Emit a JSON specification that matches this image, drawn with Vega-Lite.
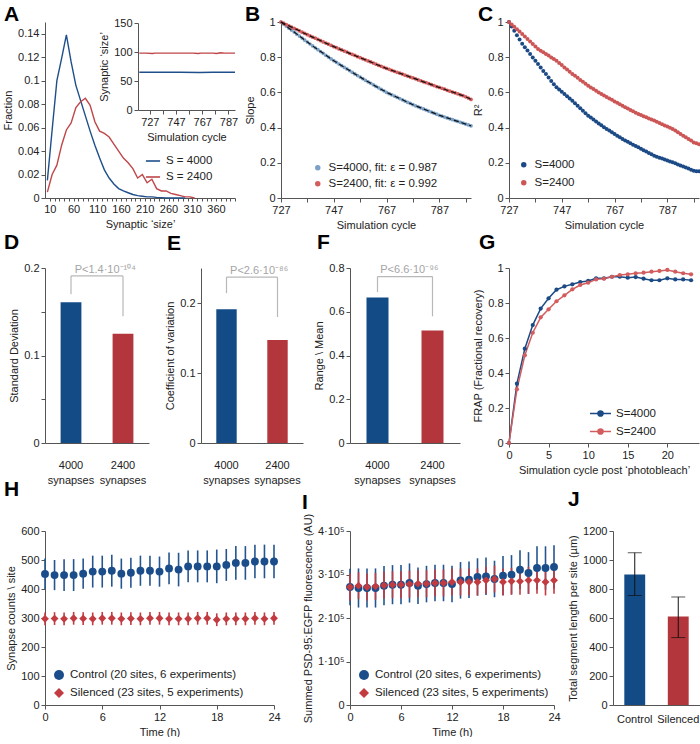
{
"$schema": "https://vega.github.io/schema/vega-lite/v6.json",
"padding": {"left": 2, "top": 4, "right": 0, "bottom": 0},
"config": {
 "font": "Liberation Sans",
 "view": {"stroke": null},
 "axis": {"labelFontSize": 11, "titleFontSize": 11, "titleFontWeight": "normal", "labelColor": "#222", "titleColor": "#222", "domainColor": "#555", "tickColor": "#555", "grid": false, "labelOverlap": false, "labelFlush": false, "tickSize": 4, "labelPadding": 2, "titlePadding": 4},
 "legend": {"padding": 0, "labelFontSize": 11.5, "labelColor": "#222", "rowPadding": 4, "labelOffset": 5, "title": null},
 "title": {"fontSize": 21, "fontWeight": "bold", "anchor": "start", "frame": "group", "color": "#000", "baseline": "alphabetic"}
},
"datasets": {
 "distA": [
  {"size":5,"fraction":0.015,"S":"S = 4000"},{"size":15,"fraction":0.058,"S":"S = 4000"},{"size":25,"fraction":0.1,"S":"S = 4000"},{"size":35,"fraction":0.119,"S":"S = 4000"},{"size":45,"fraction":0.139,"S":"S = 4000"},{"size":55,"fraction":0.116,"S":"S = 4000"},{"size":65,"fraction":0.096,"S":"S = 4000"},{"size":75,"fraction":0.083,"S":"S = 4000"},{"size":85,"fraction":0.07,"S":"S = 4000"},{"size":95,"fraction":0.057,"S":"S = 4000"},{"size":105,"fraction":0.045,"S":"S = 4000"},{"size":115,"fraction":0.034,"S":"S = 4000"},{"size":125,"fraction":0.024,"S":"S = 4000"},{"size":135,"fraction":0.017,"S":"S = 4000"},{"size":145,"fraction":0.012,"S":"S = 4000"},{"size":155,"fraction":0.008,"S":"S = 4000"},{"size":165,"fraction":0.006,"S":"S = 4000"},{"size":175,"fraction":0.0045,"S":"S = 4000"},{"size":185,"fraction":0.003,"S":"S = 4000"},{"size":195,"fraction":0.002,"S":"S = 4000"},{"size":205,"fraction":0.0015,"S":"S = 4000"},{"size":215,"fraction":0.001,"S":"S = 4000"},{"size":225,"fraction":0.001,"S":"S = 4000"},{"size":235,"fraction":0.0005,"S":"S = 4000"},{"size":245,"fraction":0.0003,"S":"S = 4000"},{"size":255,"fraction":0,"S":"S = 4000"},{"size":275,"fraction":0,"S":"S = 4000"},{"size":295,"fraction":0,"S":"S = 4000"},
  {"size":5,"fraction":0.005,"S":"S = 2400"},{"size":15,"fraction":0.02,"S":"S = 2400"},{"size":25,"fraction":0.028,"S":"S = 2400"},{"size":35,"fraction":0.045,"S":"S = 2400"},{"size":45,"fraction":0.058,"S":"S = 2400"},{"size":55,"fraction":0.064,"S":"S = 2400"},{"size":65,"fraction":0.077,"S":"S = 2400"},{"size":75,"fraction":0.082,"S":"S = 2400"},{"size":85,"fraction":0.085,"S":"S = 2400"},{"size":95,"fraction":0.079,"S":"S = 2400"},{"size":105,"fraction":0.065,"S":"S = 2400"},{"size":115,"fraction":0.057,"S":"S = 2400"},{"size":125,"fraction":0.055,"S":"S = 2400"},{"size":135,"fraction":0.052,"S":"S = 2400"},{"size":145,"fraction":0.046,"S":"S = 2400"},{"size":155,"fraction":0.04,"S":"S = 2400"},{"size":165,"fraction":0.034,"S":"S = 2400"},{"size":175,"fraction":0.03,"S":"S = 2400"},{"size":185,"fraction":0.025,"S":"S = 2400"},{"size":195,"fraction":0.017,"S":"S = 2400"},{"size":205,"fraction":0.02,"S":"S = 2400"},{"size":215,"fraction":0.013,"S":"S = 2400"},{"size":225,"fraction":0.016,"S":"S = 2400"},{"size":235,"fraction":0.008,"S":"S = 2400"},{"size":245,"fraction":0.006,"S":"S = 2400"},{"size":255,"fraction":0.006,"S":"S = 2400"},{"size":265,"fraction":0.004,"S":"S = 2400"},{"size":275,"fraction":0.003,"S":"S = 2400"},{"size":285,"fraction":0.002,"S":"S = 2400"},{"size":295,"fraction":0.001,"S":"S = 2400"},{"size":305,"fraction":0.001,"S":"S = 2400"},{"size":315,"fraction":0,"S":"S = 2400"}
 ],
 "insetA": [
  {"cycle":719,"ssize":65,"S":"S = 4000"},{"cycle":735,"ssize":65,"S":"S = 4000"},{"cycle":750,"ssize":65,"S":"S = 4000"},{"cycle":765,"ssize":64.6,"S":"S = 4000"},{"cycle":775,"ssize":65,"S":"S = 4000"},{"cycle":792,"ssize":65,"S":"S = 4000"},
  {"cycle":719,"ssize":98,"S":"S = 2400"},{"cycle":724,"ssize":98,"S":"S = 2400"},{"cycle":729,"ssize":97.3,"S":"S = 2400"},{"cycle":731,"ssize":98,"S":"S = 2400"},{"cycle":740,"ssize":98,"S":"S = 2400"},{"cycle":750,"ssize":98,"S":"S = 2400"},{"cycle":760,"ssize":98,"S":"S = 2400"},{"cycle":764,"ssize":97.3,"S":"S = 2400"},{"cycle":766,"ssize":98,"S":"S = 2400"},{"cycle":775,"ssize":98,"S":"S = 2400"},{"cycle":778,"ssize":97.5,"S":"S = 2400"},{"cycle":781,"ssize":98.6,"S":"S = 2400"},{"cycle":784,"ssize":98,"S":"S = 2400"},{"cycle":792,"ssize":98,"S":"S = 2400"}
 ],
 "cyc": [
  {"cycle":727,"slope4000":1.000,"slope2400":1.000,"r4000":1.000,"r2400":1.000},
  {"cycle":728,"slope4000":0.988,"slope2400":0.993,"r4000":0.975,"r2400":0.986},
  {"cycle":729,"slope4000":0.977,"slope2400":0.985,"r4000":0.950,"r2400":0.973},
  {"cycle":730,"slope4000":0.965,"slope2400":0.978,"r4000":0.925,"r2400":0.959},
  {"cycle":731,"slope4000":0.954,"slope2400":0.971,"r4000":0.900,"r2400":0.946},
  {"cycle":732,"slope4000":0.943,"slope2400":0.964,"r4000":0.876,"r2400":0.932},
  {"cycle":733,"slope4000":0.931,"slope2400":0.957,"r4000":0.857,"r2400":0.918},
  {"cycle":734,"slope4000":0.920,"slope2400":0.950,"r4000":0.838,"r2400":0.904},
  {"cycle":735,"slope4000":0.909,"slope2400":0.942,"r4000":0.818,"r2400":0.889},
  {"cycle":736,"slope4000":0.897,"slope2400":0.935,"r4000":0.799,"r2400":0.875},
  {"cycle":737,"slope4000":0.886,"slope2400":0.928,"r4000":0.780,"r2400":0.861},
  {"cycle":738,"slope4000":0.875,"slope2400":0.921,"r4000":0.761,"r2400":0.847},
  {"cycle":739,"slope4000":0.864,"slope2400":0.914,"r4000":0.742,"r2400":0.837},
  {"cycle":740,"slope4000":0.853,"slope2400":0.908,"r4000":0.722,"r2400":0.828},
  {"cycle":741,"slope4000":0.843,"slope2400":0.901,"r4000":0.705,"r2400":0.818},
  {"cycle":742,"slope4000":0.832,"slope2400":0.894,"r4000":0.684,"r2400":0.809},
  {"cycle":743,"slope4000":0.822,"slope2400":0.887,"r4000":0.665,"r2400":0.799},
  {"cycle":744,"slope4000":0.811,"slope2400":0.880,"r4000":0.646,"r2400":0.790},
  {"cycle":745,"slope4000":0.801,"slope2400":0.874,"r4000":0.629,"r2400":0.780},
  {"cycle":746,"slope4000":0.790,"slope2400":0.867,"r4000":0.616,"r2400":0.767},
  {"cycle":747,"slope4000":0.780,"slope2400":0.860,"r4000":0.603,"r2400":0.755},
  {"cycle":748,"slope4000":0.771,"slope2400":0.854,"r4000":0.591,"r2400":0.742},
  {"cycle":749,"slope4000":0.761,"slope2400":0.847,"r4000":0.578,"r2400":0.730},
  {"cycle":750,"slope4000":0.752,"slope2400":0.841,"r4000":0.566,"r2400":0.717},
  {"cycle":751,"slope4000":0.742,"slope2400":0.835,"r4000":0.553,"r2400":0.705},
  {"cycle":752,"slope4000":0.733,"slope2400":0.829,"r4000":0.539,"r2400":0.694},
  {"cycle":753,"slope4000":0.724,"slope2400":0.822,"r4000":0.524,"r2400":0.683},
  {"cycle":754,"slope4000":0.714,"slope2400":0.816,"r4000":0.510,"r2400":0.671},
  {"cycle":755,"slope4000":0.705,"slope2400":0.810,"r4000":0.496,"r2400":0.660},
  {"cycle":756,"slope4000":0.696,"slope2400":0.803,"r4000":0.482,"r2400":0.649},
  {"cycle":757,"slope4000":0.687,"slope2400":0.797,"r4000":0.468,"r2400":0.638},
  {"cycle":758,"slope4000":0.678,"slope2400":0.791,"r4000":0.457,"r2400":0.628},
  {"cycle":759,"slope4000":0.669,"slope2400":0.785,"r4000":0.446,"r2400":0.619},
  {"cycle":760,"slope4000":0.660,"slope2400":0.779,"r4000":0.435,"r2400":0.610},
  {"cycle":761,"slope4000":0.652,"slope2400":0.773,"r4000":0.424,"r2400":0.600},
  {"cycle":762,"slope4000":0.643,"slope2400":0.767,"r4000":0.413,"r2400":0.591},
  {"cycle":763,"slope4000":0.634,"slope2400":0.760,"r4000":0.402,"r2400":0.583},
  {"cycle":764,"slope4000":0.626,"slope2400":0.754,"r4000":0.392,"r2400":0.574},
  {"cycle":765,"slope4000":0.617,"slope2400":0.748,"r4000":0.383,"r2400":0.566},
  {"cycle":766,"slope4000":0.609,"slope2400":0.742,"r4000":0.373,"r2400":0.558},
  {"cycle":767,"slope4000":0.600,"slope2400":0.736,"r4000":0.364,"r2400":0.549},
  {"cycle":768,"slope4000":0.593,"slope2400":0.731,"r4000":0.354,"r2400":0.541},
  {"cycle":769,"slope4000":0.586,"slope2400":0.725,"r4000":0.345,"r2400":0.532},
  {"cycle":770,"slope4000":0.579,"slope2400":0.720,"r4000":0.335,"r2400":0.524},
  {"cycle":771,"slope4000":0.572,"slope2400":0.714,"r4000":0.327,"r2400":0.516},
  {"cycle":772,"slope4000":0.565,"slope2400":0.709,"r4000":0.319,"r2400":0.508},
  {"cycle":773,"slope4000":0.558,"slope2400":0.704,"r4000":0.311,"r2400":0.500},
  {"cycle":774,"slope4000":0.551,"slope2400":0.698,"r4000":0.303,"r2400":0.493},
  {"cycle":775,"slope4000":0.544,"slope2400":0.693,"r4000":0.296,"r2400":0.485},
  {"cycle":776,"slope4000":0.537,"slope2400":0.687,"r4000":0.288,"r2400":0.477},
  {"cycle":777,"slope4000":0.530,"slope2400":0.682,"r4000":0.280,"r2400":0.471},
  {"cycle":778,"slope4000":0.524,"slope2400":0.677,"r4000":0.272,"r2400":0.465},
  {"cycle":779,"slope4000":0.518,"slope2400":0.671,"r4000":0.264,"r2400":0.459},
  {"cycle":780,"slope4000":0.512,"slope2400":0.666,"r4000":0.256,"r2400":0.452},
  {"cycle":781,"slope4000":0.506,"slope2400":0.660,"r4000":0.248,"r2400":0.446},
  {"cycle":782,"slope4000":0.500,"slope2400":0.655,"r4000":0.240,"r2400":0.440},
  {"cycle":783,"slope4000":0.494,"slope2400":0.650,"r4000":0.235,"r2400":0.433},
  {"cycle":784,"slope4000":0.488,"slope2400":0.644,"r4000":0.229,"r2400":0.426},
  {"cycle":785,"slope4000":0.482,"slope2400":0.639,"r4000":0.224,"r2400":0.419},
  {"cycle":786,"slope4000":0.476,"slope2400":0.633,"r4000":0.219,"r2400":0.412},
  {"cycle":787,"slope4000":0.470,"slope2400":0.628,"r4000":0.213,"r2400":0.406},
  {"cycle":788,"slope4000":0.465,"slope2400":0.623,"r4000":0.208,"r2400":0.399},
  {"cycle":789,"slope4000":0.460,"slope2400":0.618,"r4000":0.203,"r2400":0.392},
  {"cycle":790,"slope4000":0.455,"slope2400":0.612,"r4000":0.197,"r2400":0.383},
  {"cycle":791,"slope4000":0.450,"slope2400":0.607,"r4000":0.191,"r2400":0.373},
  {"cycle":792,"slope4000":0.445,"slope2400":0.602,"r4000":0.185,"r2400":0.364},
  {"cycle":793,"slope4000":0.440,"slope2400":0.597,"r4000":0.179,"r2400":0.354},
  {"cycle":794,"slope4000":0.435,"slope2400":0.592,"r4000":0.173,"r2400":0.345},
  {"cycle":795,"slope4000":0.430,"slope2400":0.586,"r4000":0.167,"r2400":0.335},
  {"cycle":796,"slope4000":0.425,"slope2400":0.581,"r4000":0.161,"r2400":0.326},
  {"cycle":797,"slope4000":0.420,"slope2400":0.575,"r4000":0.155,"r2400":0.316},
  {"cycle":798,"slope4000":0.415,"slope2400":0.568,"r4000":0.152,"r2400":0.311},
  {"cycle":799,"slope4000":0.410,"slope2400":0.560,"r4000":0.152,"r2400":0.305}
 ],
 "frap": [
  {"t":0,"frap":0,"S":"S=4000"},{"t":1,"frap":0.339,"S":"S=4000"},{"t":2,"frap":0.539,"S":"S=4000"},{"t":3,"frap":0.674,"S":"S=4000"},{"t":4,"frap":0.768,"S":"S=4000"},{"t":5,"frap":0.827,"S":"S=4000"},{"t":6,"frap":0.876,"S":"S=4000"},{"t":7,"frap":0.895,"S":"S=4000"},{"t":8,"frap":0.907,"S":"S=4000"},{"t":9,"frap":0.92,"S":"S=4000"},{"t":10,"frap":0.926,"S":"S=4000"},{"t":11,"frap":0.941,"S":"S=4000"},{"t":12,"frap":0.941,"S":"S=4000"},{"t":13,"frap":0.95,"S":"S=4000"},{"t":14,"frap":0.95,"S":"S=4000"},{"t":15,"frap":0.945,"S":"S=4000"},{"t":16,"frap":0.948,"S":"S=4000"},{"t":17,"frap":0.939,"S":"S=4000"},{"t":18,"frap":0.93,"S":"S=4000"},{"t":19,"frap":0.93,"S":"S=4000"},{"t":20,"frap":0.941,"S":"S=4000"},{"t":21,"frap":0.935,"S":"S=4000"},{"t":22,"frap":0.935,"S":"S=4000"},{"t":23,"frap":0.93,"S":"S=4000"},
  {"t":0,"frap":0,"S":"S=2400"},{"t":1,"frap":0.307,"S":"S=2400"},{"t":2,"frap":0.501,"S":"S=2400"},{"t":3,"frap":0.63,"S":"S=2400"},{"t":4,"frap":0.718,"S":"S=2400"},{"t":5,"frap":0.764,"S":"S=2400"},{"t":6,"frap":0.81,"S":"S=2400"},{"t":7,"frap":0.844,"S":"S=2400"},{"t":8,"frap":0.878,"S":"S=2400"},{"t":9,"frap":0.903,"S":"S=2400"},{"t":10,"frap":0.916,"S":"S=2400"},{"t":11,"frap":0.935,"S":"S=2400"},{"t":12,"frap":0.939,"S":"S=2400"},{"t":13,"frap":0.95,"S":"S=2400"},{"t":14,"frap":0.96,"S":"S=2400"},{"t":15,"frap":0.964,"S":"S=2400"},{"t":16,"frap":0.97,"S":"S=2400"},{"t":17,"frap":0.973,"S":"S=2400"},{"t":18,"frap":0.979,"S":"S=2400"},{"t":19,"frap":0.983,"S":"S=2400"},{"t":20,"frap":0.989,"S":"S=2400"},{"t":21,"frap":0.979,"S":"S=2400"},{"t":22,"frap":0.97,"S":"S=2400"},{"t":23,"frap":0.964,"S":"S=2400"}
 ],
 "syn": [
  {"t":0,"group":"Control","count":452,"lo":399,"hi":505},{"t":1,"group":"Control","count":448,"lo":396,"hi":500},{"t":2,"group":"Control","count":448,"lo":393,"hi":503},{"t":3,"group":"Control","count":448,"lo":393,"hi":503},{"t":4,"group":"Control","count":453,"lo":401,"hi":505},{"t":5,"group":"Control","count":460,"lo":405,"hi":515},{"t":6,"group":"Control","count":460,"lo":405,"hi":515},{"t":7,"group":"Control","count":463,"lo":408,"hi":518},{"t":8,"group":"Control","count":453,"lo":401,"hi":505},{"t":9,"group":"Control","count":456,"lo":404,"hi":508},{"t":10,"group":"Control","count":463,"lo":411,"hi":515},{"t":11,"group":"Control","count":463,"lo":411,"hi":515},{"t":12,"group":"Control","count":460,"lo":408,"hi":512},{"t":13,"group":"Control","count":471,"lo":416,"hi":526},{"t":14,"group":"Control","count":467,"lo":409,"hi":525},{"t":15,"group":"Control","count":478,"lo":423,"hi":533},{"t":16,"group":"Control","count":478,"lo":423,"hi":533},{"t":17,"group":"Control","count":478,"lo":423,"hi":533},{"t":18,"group":"Control","count":478,"lo":420,"hi":536},{"t":19,"group":"Control","count":483,"lo":428,"hi":538},{"t":20,"group":"Control","count":490,"lo":432,"hi":548},{"t":21,"group":"Control","count":490,"lo":432,"hi":548},{"t":22,"group":"Control","count":495,"lo":437,"hi":553},{"t":23,"group":"Control","count":495,"lo":437,"hi":553},{"t":24,"group":"Control","count":495,"lo":437,"hi":553},
  {"t":0,"group":"Silenced","count":297,"lo":275,"hi":319},{"t":1,"group":"Silenced","count":298,"lo":276,"hi":320},{"t":2,"group":"Silenced","count":297,"lo":275,"hi":319},{"t":3,"group":"Silenced","count":299,"lo":277,"hi":321},{"t":4,"group":"Silenced","count":298,"lo":276,"hi":320},{"t":5,"group":"Silenced","count":297,"lo":275,"hi":319},{"t":6,"group":"Silenced","count":299,"lo":277,"hi":321},{"t":7,"group":"Silenced","count":299,"lo":277,"hi":321},{"t":8,"group":"Silenced","count":297,"lo":275,"hi":319},{"t":9,"group":"Silenced","count":298,"lo":276,"hi":320},{"t":10,"group":"Silenced","count":297,"lo":275,"hi":319},{"t":11,"group":"Silenced","count":299,"lo":277,"hi":321},{"t":12,"group":"Silenced","count":299,"lo":277,"hi":321},{"t":13,"group":"Silenced","count":297,"lo":275,"hi":319},{"t":14,"group":"Silenced","count":297,"lo":275,"hi":319},{"t":15,"group":"Silenced","count":297,"lo":275,"hi":319},{"t":16,"group":"Silenced","count":299,"lo":277,"hi":321},{"t":17,"group":"Silenced","count":299,"lo":277,"hi":321},{"t":18,"group":"Silenced","count":294,"lo":272,"hi":316},{"t":19,"group":"Silenced","count":297,"lo":275,"hi":319},{"t":20,"group":"Silenced","count":297,"lo":275,"hi":319},{"t":21,"group":"Silenced","count":297,"lo":275,"hi":319},{"t":22,"group":"Silenced","count":299,"lo":277,"hi":321},{"t":23,"group":"Silenced","count":297,"lo":275,"hi":319},{"t":24,"group":"Silenced","count":299,"lo":277,"hi":321}
 ],
 "psd": [
  {"t":0,"group":"Control","fluor":271300,"lo":229300,"hi":313300},{"t":1,"group":"Control","fluor":269000,"lo":224000,"hi":314000},{"t":2,"group":"Control","fluor":269000,"lo":224000,"hi":314000},{"t":3,"group":"Control","fluor":269000,"lo":224000,"hi":314000},{"t":4,"group":"Control","fluor":274300,"lo":229300,"hi":319300},{"t":5,"group":"Control","fluor":276600,"lo":231600,"hi":321600},{"t":6,"group":"Control","fluor":276600,"lo":231600,"hi":321600},{"t":7,"group":"Control","fluor":280500,"lo":235500,"hi":325500},{"t":8,"group":"Control","fluor":274300,"lo":232300,"hi":316300},{"t":9,"group":"Control","fluor":278000,"lo":236000,"hi":320000},{"t":10,"group":"Control","fluor":280500,"lo":238500,"hi":322500},{"t":11,"group":"Control","fluor":280500,"lo":238500,"hi":322500},{"t":12,"group":"Control","fluor":278000,"lo":236000,"hi":320000},{"t":13,"group":"Control","fluor":286600,"lo":244600,"hi":328600},{"t":14,"group":"Control","fluor":288000,"lo":246000,"hi":330000},{"t":15,"group":"Control","fluor":294300,"lo":251300,"hi":337300},{"t":16,"group":"Control","fluor":295800,"lo":252800,"hi":338800},{"t":17,"group":"Control","fluor":289700,"lo":247700,"hi":331700},{"t":18,"group":"Control","fluor":297300,"lo":252300,"hi":342300},{"t":19,"group":"Control","fluor":299600,"lo":254600,"hi":344600},{"t":20,"group":"Control","fluor":311000,"lo":266000,"hi":356000},{"t":21,"group":"Control","fluor":303400,"lo":255400,"hi":351400},{"t":22,"group":"Control","fluor":314900,"lo":264900,"hi":364900},{"t":23,"group":"Control","fluor":314900,"lo":264900,"hi":364900},{"t":24,"group":"Control","fluor":317200,"lo":267200,"hi":367200},
  {"t":0,"group":"Silenced","fluor":271300,"lo":240300,"hi":302300},{"t":1,"group":"Silenced","fluor":274300,"lo":243300,"hi":305300},{"t":2,"group":"Silenced","fluor":271300,"lo":240300,"hi":302300},{"t":3,"group":"Silenced","fluor":272800,"lo":241800,"hi":303800},{"t":4,"group":"Silenced","fluor":275100,"lo":244100,"hi":306100},{"t":5,"group":"Silenced","fluor":276600,"lo":245600,"hi":307600},{"t":6,"group":"Silenced","fluor":276600,"lo":245600,"hi":307600},{"t":7,"group":"Silenced","fluor":278000,"lo":247000,"hi":309000},{"t":8,"group":"Silenced","fluor":278900,"lo":247900,"hi":309900},{"t":9,"group":"Silenced","fluor":278900,"lo":247900,"hi":309900},{"t":10,"group":"Silenced","fluor":280500,"lo":249500,"hi":311500},{"t":11,"group":"Silenced","fluor":280500,"lo":249500,"hi":311500},{"t":12,"group":"Silenced","fluor":282800,"lo":251800,"hi":313800},{"t":13,"group":"Silenced","fluor":282800,"lo":251800,"hi":313800},{"t":14,"group":"Silenced","fluor":282800,"lo":251800,"hi":313800},{"t":15,"group":"Silenced","fluor":282800,"lo":251800,"hi":313800},{"t":16,"group":"Silenced","fluor":286600,"lo":255600,"hi":317600},{"t":17,"group":"Silenced","fluor":289700,"lo":258700,"hi":320700},{"t":18,"group":"Silenced","fluor":282800,"lo":251800,"hi":313800},{"t":19,"group":"Silenced","fluor":284300,"lo":253300,"hi":315300},{"t":20,"group":"Silenced","fluor":284300,"lo":253300,"hi":315300},{"t":21,"group":"Silenced","fluor":286600,"lo":255600,"hi":317600},{"t":22,"group":"Silenced","fluor":286600,"lo":255600,"hi":317600},{"t":23,"group":"Silenced","fluor":282800,"lo":251800,"hi":313800},{"t":24,"group":"Silenced","fluor":286600,"lo":255600,"hi":317600}
 ],
 "seg": [{"group":"Control","length":900,"lo":755,"hi":1050},{"group":"Silenced","length":610,"lo":465,"hi":745}]
},
"spacing": 2,
"resolve": {"scale": {"color": "independent", "shape": "independent"}, "legend": {"color": "independent", "shape": "independent"}},
"vconcat": [
 {"spacing": 0, "bounds": "flush",
  "resolve": {"scale": {"color": "independent", "shape": "independent"}, "legend": {"color": "independent", "shape": "independent"}},
  "hconcat": [
   {"width": 190, "height": 176,
    "title": {"text": "A", "dx": -41, "offset": -8},
    "layer": [
     {"data": {"name": "distA"},
      "mark": {"type": "line", "strokeWidth": 1.4},
      "encoding": {
       "x": {"field": "size", "type": "quantitative", "scale": {"domain": [0, 400], "nice": false},
             "axis": {"values": [10,20,30,40,50,60,70,80,90,100,110,120,130,140,150,160,170,180,190,200,210,220,230,240,250,260,270,280,290,300,310,320,330,340,350,360,370,380,390,400], "labelOverlap": false, "labelExpr": "(datum.value - 10) % 50 == 0 && datum.value <= 360 ? datum.label : ''", "title": "Synaptic ‘size’", "tickSize": 3}},
       "y": {"field": "fraction", "type": "quantitative", "scale": {"domain": [0, 0.15], "nice": false},
             "axis": {"values": [0,0.02,0.04,0.06,0.08,0.1,0.12,0.14], "labelOverlap": false, "format": "~g", "title": "Fraction"}},
       "color": {"field": "S", "type": "nominal", "scale": {"domain": ["S = 4000", "S = 2400"], "range": ["#1f4f8a", "#c0464a"]},
                 "legend": {"orient": "none", "legendX": 100, "legendY": 131, "title": null, "symbolType": "stroke", "symbolSize": 200, "symbolStrokeWidth": 1.6, "rowPadding": 2}}
      }},
     {"data": {"name": "insetA"},
      "mark": {"type": "line", "strokeWidth": 1.4},
      "encoding": {
       "x": {"field": "cycle", "type": "quantitative", "scale": {"domain": [718, 792], "range": [93, 190], "nice": false, "zero": false},
             "axis": {"orient": "bottom", "offset": -88, "values": [727,737,747,757,767,777,787], "labelOverlap": false, "labelExpr": "(datum.value - 727) % 20 == 0 ? datum.label : ''", "format": "d", "title": "Simulation cycle"}},
       "y": {"field": "ssize", "type": "quantitative", "scale": {"domain": [0, 150], "range": [88, 1], "nice": false},
             "axis": {"orient": "left", "offset": -93, "values": [0, 50, 100, 150], "labelOverlap": false, "title": "Synaptic ‘size’"}},
       "color": {"field": "S", "type": "nominal"}
      }}
    ],
    "resolve": {"scale": {"x": "independent", "y": "independent"}, "axis": {"x": "independent", "y": "independent"}}
   },
   {"width": 46, "height": 10, "data": {"values": []}, "mark": "point"},
   {"width": 190, "height": 176,
    "title": {"text": "B", "dx": -36, "offset": -9},
    "data": {"name": "cyc"},
    "transform": [{"fold": ["slope4000", "slope2400"], "as": ["series", "slope"]}],
    "encoding": {
     "x": {"field": "cycle", "type": "quantitative", "scale": {"domain": [727, 799], "nice": false, "zero": false},
           "axis": {"values": [727,737,747,757,767,777,787,797], "labelOverlap": false, "labelExpr": "(datum.value - 727) % 20 == 0 ? datum.label : ''", "format": "d", "title": "Simulation cycle"}},
     "y": {"field": "slope", "type": "quantitative", "scale": {"domain": [0, 1], "nice": false},
           "axis": {"values": [0,0.2,0.4,0.6,0.8,1], "labelOverlap": false, "format": "~g", "title": "Slope"}}
    },
    "layer": [
     {"mark": {"type": "circle", "size": 14, "opacity": 1},
      "encoding": {
       "color": {"field": "series", "type": "nominal", "scale": {"domain": ["slope4000", "slope2400"], "range": ["#7ba1c7", "#d35d5d"]},
                 "legend": {"orient": "none", "legendX": 31, "legendY": 140, "title": null, "symbolType": "circle", "symbolSize": 30, "rowPadding": 3, "labelLimit": 300,
                            "labelExpr": "datum.label == 'slope4000' ? 'S=4000, fit: ε = 0.987' : 'S=2400, fit: ε = 0.992'"}}
      }},
     {"mark": {"type": "line", "color": "#111", "strokeWidth": 1.2, "strokeDash": [5, 3]},
      "encoding": {
       "detail": {"field": "series", "type": "nominal"}
      }}
    ]
   },
   {"width": 38, "height": 10, "data": {"values": []}, "mark": "point"},
   {"width": 190, "height": 176,
    "title": {"text": "C", "dx": -31, "offset": -9},
    "data": {"name": "cyc"},
    "transform": [{"fold": ["r4000", "r2400"], "as": ["series", "r2"]}],
    "mark": {"type": "circle", "size": 16, "opacity": 1},
    "encoding": {
     "x": {"field": "cycle", "type": "quantitative", "scale": {"domain": [727, 799], "nice": false, "zero": false},
           "axis": {"values": [727,737,747,757,767,777,787,797], "labelOverlap": false, "labelExpr": "(datum.value - 727) % 20 == 0 ? datum.label : ''", "format": "d", "title": "Simulation cycle"}},
     "y": {"field": "r2", "type": "quantitative", "scale": {"domain": [0, 1], "nice": false},
           "axis": {"values": [0,0.2,0.4,0.6,0.8,1], "labelOverlap": false, "format": "~g", "title": "R²"}},
     "color": {"field": "series", "type": "nominal", "scale": {"domain": ["r4000", "r2400"], "range": ["#1c4a86", "#cc5656"]},
               "legend": {"orient": "none", "legendX": 9, "legendY": 137, "title": null, "symbolType": "circle", "symbolSize": 30, "rowPadding": 5,
                          "labelExpr": "datum.label == 'r4000' ? 'S=4000' : 'S=2400'"}}
    }
   }
  ]
 },
 {"spacing": -6,
  "resolve": {"scale": {"color": "independent", "shape": "independent"}, "legend": {"color": "independent", "shape": "independent"}},
  "vconcat": [
   {"spacing": 0, "bounds": "flush",
    "resolve": {"scale": {"color": "independent", "shape": "independent"}, "legend": {"color": "independent", "shape": "independent"}},
    "hconcat": [
     {"width": 104, "height": 175,
      "title": {"text": "D", "dx": -41, "offset": 9},
      "layer": [
       {"data": {"values": [{"group": "4000 synapses", "value": 0.161}, {"group": "2400 synapses", "value": 0.125}]},
        "mark": {"type": "bar", "width": {"band": 0.4}},
        "encoding": {
         "x": {"field": "group", "type": "nominal", "sort": null, "scale": {"domain": ["4000 synapses", "2400 synapses"], "paddingInner": 0, "paddingOuter": 0},
               "axis": {"title": null, "labelAngle": 0, "ticks": false, "domain": true, "domainColor": "#555", "labelPadding": 16, "labelLineHeight": 15, "labelExpr": "split(datum.label, ' ')"}},
         "y": {"field": "value", "type": "quantitative", "scale": {"domain": [0, 0.2], "nice": false},
               "axis": {"values": [0,0.05,0.1,0.15,0.2], "labelOverlap": false, "format": "~g", "labelExpr": "datum.value == 0 || datum.value == 0.1 || datum.value == 0.2 ? datum.label : ''", "title": "Standard Deviation"}},
         "color": {"field": "group", "type": "nominal", "scale": {"domain": ["4000 synapses", "2400 synapses"], "range": ["#134b87", "#b2363b"]}, "legend": null}
        }},
       {"data": {"values": [{"px": 0.5, "px2": 1.5, "y": 0.191, "y2": 0.191}, {"px": 0.5, "px2": 0.5, "y": 0.191, "y2": 0.170}, {"px": 1.5, "px2": 1.5, "y": 0.191, "y2": 0.145}]},
        "mark": {"type": "rule", "color": "#b8b8b8", "strokeWidth": 1.2},
        "encoding": {
         "x": {"field": "px", "type": "quantitative", "scale": {"domain": [0, 2]}, "axis": null},
         "x2": {"field": "px2"},
         "y": {"field": "y", "type": "quantitative"},
         "y2": {"field": "y2"}
        }},
       {"data": {"values": [{"px": 0.57, "y": 0.1943, "label": "P<1.4·10⁻¹⁰⁴"}]},
        "mark": {"type": "text", "align": "left", "baseline": "alphabetic", "color": "#a5a5a5", "fontSize": 11},
        "encoding": {
         "x": {"field": "px", "type": "quantitative", "scale": {"domain": [0, 2]}, "axis": null},
         "y": {"field": "y", "type": "quantitative"},
         "text": {"field": "label"}
        }}
      ],
      "resolve": {"scale": {"x": "independent"}, "axis": {"x": "independent"}}
     },
     {"width": 52, "height": 10, "data": {"values": []}, "mark": "point"},
     {"width": 102, "height": 175,
      "title": {"text": "E", "dx": -34, "offset": 11},
      "layer": [
       {"data": {"values": [{"group": "4000 synapses", "value": 0.191}, {"group": "2400 synapses", "value": 0.147}]},
        "mark": {"type": "bar", "width": {"band": 0.4}},
        "encoding": {
         "x": {"field": "group", "type": "nominal", "sort": null, "scale": {"domain": ["4000 synapses", "2400 synapses"], "paddingInner": 0, "paddingOuter": 0},
               "axis": {"title": null, "labelAngle": 0, "ticks": false, "domain": true, "domainColor": "#555", "labelPadding": 16, "labelLineHeight": 15, "labelExpr": "split(datum.label, ' ')"}},
         "y": {"field": "value", "type": "quantitative", "scale": {"domain": [0, 0.25], "nice": false},
               "axis": {"values": [0,0.05,0.1,0.15,0.2,0.25], "labelOverlap": false, "format": "~g", "labelExpr": "datum.value == 0 || datum.value == 0.1 || datum.value == 0.2 ? datum.label : ''", "title": "Coefficient of variation"}},
         "color": {"field": "group", "type": "nominal", "scale": {"domain": ["4000 synapses", "2400 synapses"], "range": ["#134b87", "#b2363b"]}, "legend": null}
        }},
       {"data": {"values": [{"px": 0.5, "px2": 1.5, "y": 0.237, "y2": 0.237}, {"px": 0.5, "px2": 0.5, "y": 0.237, "y2": 0.214}, {"px": 1.5, "px2": 1.5, "y": 0.237, "y2": 0.18}]},
        "mark": {"type": "rule", "color": "#b8b8b8", "strokeWidth": 1.2},
        "encoding": {
         "x": {"field": "px", "type": "quantitative", "scale": {"domain": [0, 2]}, "axis": null},
         "x2": {"field": "px2"},
         "y": {"field": "y", "type": "quantitative"},
         "y2": {"field": "y2"}
        }},
       {"data": {"values": [{"px": 0.57, "y": 0.2414, "label": "P<2.6·10⁻⁸⁶"}]},
        "mark": {"type": "text", "align": "left", "baseline": "alphabetic", "color": "#a5a5a5", "fontSize": 11},
        "encoding": {
         "x": {"field": "px", "type": "quantitative", "scale": {"domain": [0, 2]}, "axis": null},
         "y": {"field": "y", "type": "quantitative"},
         "text": {"field": "label"}
        }}
      ],
      "resolve": {"scale": {"x": "independent"}, "axis": {"x": "independent"}}
     },
     {"width": 47, "height": 10, "data": {"values": []}, "mark": "point"},
     {"width": 110, "height": 175,
      "title": {"text": "F", "dx": -33, "offset": 9},
      "layer": [
       {"data": {"values": [{"group": "4000 synapses", "value": 0.665}, {"group": "2400 synapses", "value": 0.514}]},
        "mark": {"type": "bar", "width": {"band": 0.4}},
        "encoding": {
         "x": {"field": "group", "type": "nominal", "sort": null, "scale": {"domain": ["4000 synapses", "2400 synapses"], "paddingInner": 0, "paddingOuter": 0},
               "axis": {"title": null, "labelAngle": 0, "ticks": false, "domain": true, "domainColor": "#555", "labelPadding": 16, "labelLineHeight": 15, "labelExpr": "split(datum.label, ' ')"}},
         "y": {"field": "value", "type": "quantitative", "scale": {"domain": [0, 0.8], "nice": false},
               "axis": {"values": [0,0.2,0.4,0.6,0.8], "labelOverlap": false, "format": "~g", "title": "Range \\ Mean"}},
         "color": {"field": "group", "type": "nominal", "scale": {"domain": ["4000 synapses", "2400 synapses"], "range": ["#134b87", "#b2363b"]}, "legend": null}
        }},
       {"data": {"values": [{"px": 0.5, "px2": 1.5, "y": 0.761, "y2": 0.761}, {"px": 0.5, "px2": 0.5, "y": 0.761, "y2": 0.69}, {"px": 1.5, "px2": 1.5, "y": 0.761, "y2": 0.579}]},
        "mark": {"type": "rule", "color": "#b8b8b8", "strokeWidth": 1.2},
        "encoding": {
         "x": {"field": "px", "type": "quantitative", "scale": {"domain": [0, 2]}, "axis": null},
         "x2": {"field": "px2"},
         "y": {"field": "y", "type": "quantitative"},
         "y2": {"field": "y2"}
        }},
       {"data": {"values": [{"px": 0.55, "y": 0.777, "label": "P<6.6·10⁻⁹⁶"}]},
        "mark": {"type": "text", "align": "left", "baseline": "alphabetic", "color": "#a5a5a5", "fontSize": 11},
        "encoding": {
         "x": {"field": "px", "type": "quantitative", "scale": {"domain": [0, 2]}, "axis": null},
         "y": {"field": "y", "type": "quantitative"},
         "text": {"field": "label"}
        }}
      ],
      "resolve": {"scale": {"x": "independent"}, "axis": {"x": "independent"}}
     },
     {"width": 49, "height": 10, "data": {"values": []}, "mark": "point"},
     {"width": 190, "height": 175,
      "title": {"text": "G", "dx": -30, "offset": 9},
      "data": {"name": "frap"},
      "mark": {"type": "line", "strokeWidth": 1.5, "point": {"filled": true, "size": 18}},
      "encoding": {
       "x": {"field": "t", "type": "quantitative", "scale": {"domain": [0, 24], "nice": false},
             "axis": {"values": [0, 5, 10, 15, 20], "labelOverlap": false, "title": "Simulation cycle post ‘photobleach’"}},
       "y": {"field": "frap", "type": "quantitative", "scale": {"domain": [0, 1], "nice": false},
             "axis": {"values": [0,0.2,0.4,0.6,0.8,1], "labelOverlap": false, "format": "~g", "title": "FRAP (Fractional recovery)"}},
       "color": {"field": "S", "type": "nominal", "scale": {"domain": ["S=4000", "S=2400"], "range": ["#1b4a85", "#d25c5e"]},
                 "legend": {"orient": "none", "legendX": 80, "legendY": 134, "title": null, "symbolType": "M-1,0H1M-0.25,0A0.25,0.25,0,1,0,0.25,0A0.25,0.25,0,1,0,-0.25,0", "symbolSize": 440, "symbolStrokeWidth": 1.5, "rowPadding": -8, "labelOffset": 4}}
      }
     }
    ]
   },
   {"spacing": 0, "bounds": "flush",
    "resolve": {"scale": {"color": "independent", "shape": "independent"}, "legend": {"color": "independent", "shape": "independent"}},
    "hconcat": [
     {"width": 229, "height": 174,
      "title": {"text": "H", "dx": -41, "offset": 25},
      "data": {"name": "syn"},
      "encoding": {
       "x": {"field": "t", "type": "quantitative", "scale": {"domain": [0, 24], "nice": false},
             "axis": {"values": [0, 6, 12, 18, 24], "labelOverlap": false, "title": "Time (h)"}}
      },
      "layer": [
       {"transform": [{"filter": "datum.group == 'Control'"}],
        "mark": {"type": "rule", "strokeWidth": 1.6, "color": "#24558f"},
        "encoding": {
         "y": {"field": "lo", "type": "quantitative", "scale": {"domain": [0, 600], "nice": false},
               "axis": {"values": [0,100,200,300,400,500,600], "labelOverlap": false, "title": "Synapse counts \\ site"}},
         "y2": {"field": "hi"}
        }},
       {"transform": [{"filter": "datum.group == 'Silenced'"}],
        "mark": {"type": "rule", "strokeWidth": 1.6, "color": "#c23b40"},
        "encoding": {
         "y": {"field": "lo", "type": "quantitative", "title": "Synapse counts \\ site", "axis": {"values": [0,100,200,300,400,500,600], "labelOverlap": false}},
         "y2": {"field": "hi"}
        }},
       {"mark": {"type": "point", "filled": true, "opacity": 1, "size": 62},
        "encoding": {
         "y": {"field": "count", "type": "quantitative", "title": "Synapse counts \\ site", "axis": {"values": [0,100,200,300,400,500,600], "labelOverlap": false}},
         "color": {"field": "group", "type": "nominal", "scale": {"domain": ["Control", "Silenced"], "range": ["#1b4d8a", "#c23b40"]},
                   "legend": {"orient": "none", "legendX": 8, "legendY": 138, "title": null, "rowPadding": 6, "labelLimit": 300, "labelExpr": "datum.label == 'Control' ? 'Control (20 sites, 6 experiments)' : 'Silenced (23 sites, 5 experiments)'"}},
         "shape": {"field": "group", "type": "nominal", "scale": {"domain": ["Control", "Silenced"], "range": ["circle", "diamond"]},
                   "legend": {"orient": "none", "legendX": 8, "legendY": 138, "title": null, "rowPadding": 6, "labelLimit": 300, "labelExpr": "datum.label == 'Control' ? 'Control (20 sites, 6 experiments)' : 'Silenced (23 sites, 5 experiments)'"}}
        }}
      ]
     },
     {"width": 76, "height": 10, "data": {"values": []}, "mark": "point"},
     {"width": 204, "height": 174,
      "title": {"text": "I", "dx": -48, "offset": 0},
      "data": {"name": "psd"},
      "encoding": {
       "x": {"field": "t", "type": "quantitative", "scale": {"domain": [0, 24], "nice": false},
             "axis": {"values": [0, 6, 12, 18, 24], "labelOverlap": false, "title": "Time (h)"}}
      },
      "layer": [
       {"transform": [{"filter": "datum.group == 'Control'"}],
        "mark": {"type": "rule", "strokeWidth": 1.6, "color": "#24558f"},
        "encoding": {
         "y": {"field": "lo", "type": "quantitative", "scale": {"domain": [0, 400000], "nice": false},
               "axis": {"values": [0,50000,100000,150000,200000,250000,300000,350000,400000], "labelOverlap": false, "labelExpr": "datum.value == 0 ? '0' : (datum.value % 100000 == 0 ? format(datum.value / 100000, 'd') + '·10⁵' : '')", "title": "Summed PSD-95:EGFP fluorescence (AU)"}},
         "y2": {"field": "hi"}
        }},
       {"transform": [{"filter": "datum.group == 'Silenced'"}],
        "mark": {"type": "rule", "strokeWidth": 1.6, "color": "#c23b40"},
        "encoding": {
         "y": {"field": "lo", "type": "quantitative", "title": "Summed PSD-95:EGFP fluorescence (AU)"},
         "y2": {"field": "hi"}
        }},
       {"mark": {"type": "point", "filled": true, "opacity": 1, "size": 62},
        "encoding": {
         "y": {"field": "fluor", "type": "quantitative", "title": "Summed PSD-95:EGFP fluorescence (AU)"},
         "color": {"field": "group", "type": "nominal", "scale": {"domain": ["Control", "Silenced"], "range": ["#1b4d8a", "#c23b40"]},
                   "legend": {"orient": "none", "legendX": 8, "legendY": 138, "title": null, "rowPadding": 6, "labelLimit": 300, "labelExpr": "datum.label == 'Control' ? 'Control (20 sites, 6 experiments)' : 'Silenced (23 sites, 5 experiments)'"}},
         "shape": {"field": "group", "type": "nominal", "scale": {"domain": ["Control", "Silenced"], "range": ["circle", "diamond"]},
                   "legend": {"orient": "none", "legendX": 8, "legendY": 138, "title": null, "rowPadding": 6, "labelLimit": 300, "labelExpr": "datum.label == 'Control' ? 'Control (20 sites, 6 experiments)' : 'Silenced (23 sites, 5 experiments)'"}}
        }}
      ]
     },
     {"width": 59, "height": 10, "data": {"values": []}, "mark": "point"},
     {"width": 87, "height": 174,
      "title": {"text": "J", "dx": -45, "offset": 15},
      "data": {"name": "seg"},
      "layer": [
       {"mark": {"type": "bar", "width": {"band": 0.48}},
        "encoding": {
         "x": {"field": "group", "type": "nominal", "sort": null, "scale": {"domain": ["Control", "Silenced"], "paddingInner": 0, "paddingOuter": 0},
               "axis": {"title": null, "labelAngle": 0, "ticks": false, "domain": true, "domainColor": "#555", "labelPadding": 8}},
         "y": {"field": "length", "type": "quantitative", "scale": {"domain": [0, 1200], "nice": false},
               "axis": {"values": [0,200,400,600,800,1000,1200], "labelOverlap": false, "format": "d", "title": "Total segment length per site (µm)"}},
         "color": {"field": "group", "type": "nominal", "scale": {"domain": ["Control", "Silenced"], "range": ["#134b87", "#b2363b"]}, "legend": null}
        }},
       {"mark": {"type": "errorbar", "ticks": {"size": 14}, "color": "#111", "thickness": 1},
        "encoding": {
         "x": {"field": "group", "type": "nominal", "title": null},
         "y": {"field": "lo", "type": "quantitative", "title": "Total segment length per site (µm)", "axis": {"values": [0,200,400,600,800,1000,1200], "labelOverlap": false, "format": "d"}},
         "y2": {"field": "hi"}
        }}
      ]
     }
    ]
   }
  ]
 }
]
}
